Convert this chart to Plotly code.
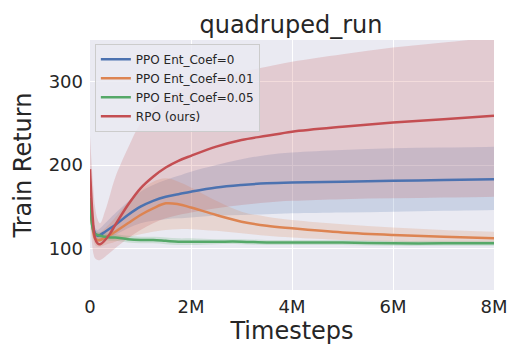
import plotly.graph_objects as go

# timesteps
steps = [0, 50000, 100000, 150000, 200000, 300000, 400000, 500000, 750000, 1000000,
         1250000, 1500000, 1750000, 2000000, 2500000, 3000000, 3500000, 4000000,
         5000000, 6000000, 7000000, 8000000]

x_tickvals = [0, 2000000, 4000000, 6000000, 8000000]
x_ticktext = ["0", "2M", "4M", "6M", "8M"]
y_tickvals = [100, 200, 300]

# PPO Ent_Coef=0
ppo0_mean = [160, 130, 118, 115, 116, 120, 124, 128, 140, 150, 157, 162, 165, 168, 173, 176, 178, 179, 180, 181, 182, 183]
ppo0_hi = [175, 140, 125, 122, 124, 130, 136, 142, 156, 168, 176, 182, 187, 192, 200, 207, 212, 215, 218, 220, 221, 222]
ppo0_lo = [145, 120, 110, 108, 108, 110, 113, 116, 124, 130, 133, 135, 136, 137, 139, 140, 141, 142, 143, 144, 145, 146]

# PPO Ent_Coef=0.01
ppo001_mean = [155, 125, 112, 110, 110, 113, 116, 120, 130, 140, 148, 154, 153, 149, 140, 132, 127, 124, 119, 116, 114, 112]
ppo001_hi = [170, 135, 120, 118, 119, 124, 130, 137, 155, 170, 180, 184, 180, 173, 157, 144, 138, 134, 129, 125, 122, 120]
ppo001_lo = [140, 115, 104, 102, 102, 104, 106, 108, 113, 117, 120, 122, 123, 123, 121, 118, 115, 113, 110, 108, 107, 106]

# PPO Ent_Coef=0.05
ppo005_mean = [160, 125, 117, 116, 115, 114, 113, 113, 111, 110, 110, 109, 108, 108, 108, 108, 107, 107, 107, 106, 106, 106]
ppo005_hi = [170, 132, 122, 120, 119, 118, 117, 117, 115, 114, 114, 113, 112, 112, 111, 111, 110, 110, 110, 109, 109, 109]
ppo005_lo = [150, 118, 112, 112, 111, 110, 109, 109, 107, 106, 106, 105, 104, 104, 105, 105, 104, 104, 104, 103, 103, 103]

# RPO (ours)
rpo_mean = [195, 140, 112, 106, 105, 110, 118, 128, 152, 172, 186, 197, 205, 211, 222, 230, 235, 240, 246, 251, 255, 259]
rpo_hi = [235, 185, 150, 135, 130, 145, 165, 185, 220, 250, 268, 280, 289, 296, 305, 312, 318, 324, 333, 341, 347, 353]
rpo_lo = [160, 100, 88, 86, 86, 90, 95, 100, 112, 122, 130, 136, 140, 143, 148, 152, 155, 157, 159, 160, 161, 162]

series = [
    ("PPO Ent_Coef=0", ppo0_mean, ppo0_lo, ppo0_hi, "76,114,176"),
    ("PPO Ent_Coef=0.01", ppo001_mean, ppo001_lo, ppo001_hi, "221,132,82"),
    ("PPO Ent_Coef=0.05", ppo005_mean, ppo005_lo, ppo005_hi, "85,168,104"),
    ("RPO (ours)", rpo_mean, rpo_lo, rpo_hi, "196,78,82"),
]

fig = go.Figure()

# 帯
for name, mean, lo, hi, rgb in series:
    fig.add_trace(go.Scatter(x=steps, y=hi, mode='lines', line=dict(width=0, shape='spline'),
                             showlegend=False, hoverinfo='skip'))
    fig.add_trace(go.Scatter(x=steps, y=lo, mode='lines', line=dict(width=0, shape='spline'),
                             fill='tonexty', fillcolor=f"rgba({rgb},0.2)", showlegend=False, hoverinfo='skip'))

# 平均線
for name, mean, lo, hi, rgb in series:
    fig.add_trace(go.Scatter(x=steps, y=mean, mode='lines', name=name,
                             line=dict(color=f"rgb({rgb})", width=2.5, shape='spline')))

# ページ余白 8px 分を差し引いて配置
fig.update_layout(
    width=525, height=360,
    margin=dict(l=82, r=39, t=32, b=78),
    paper_bgcolor='white', plot_bgcolor='#EAEAF2',
    font=dict(family="DejaVu Sans", color='#262626'),
    title=dict(text="quadruped_run", x=0.539, xanchor='center', y=0.955, yanchor='middle',
               font=dict(size=24, color='#262626')),
    legend=dict(x=0.012, y=0.985, xanchor='left', yanchor='top', traceorder='normal',
                bgcolor='rgba(234,234,242,0.85)', bordercolor='#CCCCCC', borderwidth=1,
                font=dict(size=12, color='#262626'), itemwidth=30, tracegroupgap=0),
    showlegend=True,
)
fig.update_xaxes(range=[0, 8000000], tickvals=x_tickvals, ticktext=x_ticktext,
                 showgrid=True, gridcolor='white', gridwidth=1, zeroline=False, showline=False,
                 tickfont=dict(size=18), title=dict(text="Timesteps", font=dict(size=24), standoff=4),
                 ticks='', ticklabelstandoff=4)
fig.update_yaxes(range=[50, 350], tickvals=y_tickvals,
                 showgrid=True, gridcolor='white', gridwidth=1, zeroline=False, showline=False,
                 tickfont=dict(size=18), title=dict(text="Train Return", font=dict(size=24), standoff=10),
                 ticks='', ticklabelstandoff=6)

fig.write_html("out.html")
